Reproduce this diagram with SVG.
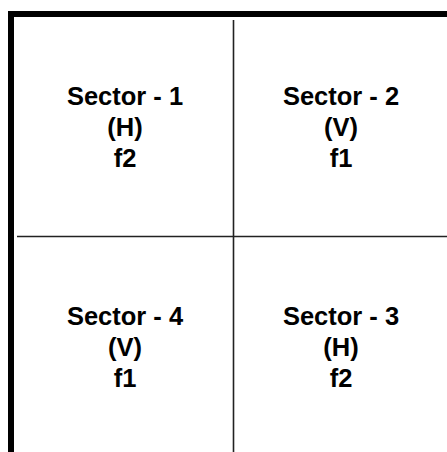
<svg xmlns="http://www.w3.org/2000/svg" width="447" height="452" viewBox="0 0 447 452">
<style>
.lbl{font-family:"Liberation Sans",Arial,sans-serif;font-weight:bold;font-size:25.5px;fill:#000;text-anchor:middle}
.border{fill:#000}
.div{stroke:#222;stroke-width:1.6;fill:none}
</style>
<rect width="447" height="452" fill="#fff"/>
<g id="frame">
<rect class="border" x="8" y="11" width="439" height="6"/>
<rect class="border" x="8" y="11" width="6" height="441"/>
</g>
<g id="dividers">
<line class="div" x1="233.5" y1="20" x2="233.5" y2="452"/>
<line class="div" x1="17" y1="236.5" x2="447" y2="236.5"/>
</g>
<g id="sector1"><text class="lbl" x="125" y="105">Sector - 1</text><text class="lbl" x="125" y="136">(H)</text><text class="lbl" x="125" y="167">f2</text></g>
<g id="sector2"><text class="lbl" x="341" y="105">Sector - 2</text><text class="lbl" x="341" y="136">(V)</text><text class="lbl" x="341" y="167">f1</text></g>
<g id="sector4"><text class="lbl" x="125" y="325">Sector - 4</text><text class="lbl" x="125" y="356">(V)</text><text class="lbl" x="125" y="387">f1</text></g>
<g id="sector3"><text class="lbl" x="341" y="325">Sector - 3</text><text class="lbl" x="341" y="356">(H)</text><text class="lbl" x="341" y="387">f2</text></g>
</svg>
